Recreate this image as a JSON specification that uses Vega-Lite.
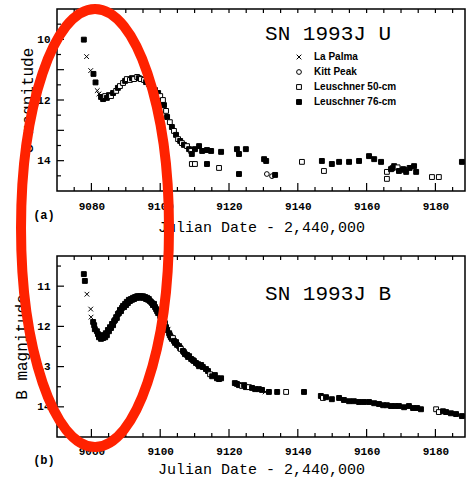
{
  "$schema": "https://vega.github.io/schema/vega-lite/v6.json",
  "background": "white",
  "padding": {"left": 13, "top": 3, "right": 0, "bottom": 4},
  "spacing": 65,
  "bounds": "flush",
  "config": {
    "view": {"stroke": "black", "strokeWidth": 1.5},
    "axis": {
      "labelFont": "Liberation Mono", "labelFontWeight": "bold", "labelFontSize": 11, "labelColor": "black",
      "titleFont": "Liberation Mono", "titleFontWeight": "normal", "titleColor": "black",
      "domain": false, "ticks": false,
      "grid": false, "labelOverlap": false, "labelFlush": false
    },
    "legend": {
      "orient": "none", "legendX": 237, "legendY": 43, "title": null, "padding": 0,
      "labelFont": "Liberation Sans", "labelFontWeight": "bold", "labelFontSize": 10, "labelColor": "black",
      "symbolStrokeColor": "black", "symbolStrokeWidth": 1, "rowPadding": 5, "labelOffset": 10
    }
  },
  "resolve": {
    "scale": {"shape": "independent", "fill": "independent", "size": "independent", "stroke": "independent"},
    "legend": {"shape": "independent", "fill": "independent", "size": "independent", "stroke": "independent"}
  },
  "datasets": {
    "U": [
      {"d": 9077.8, "m": 10.01, "s": "Leuschner 76-cm"},
      {"d": 9078.6, "m": 10.57, "s": "La Palma"},
      {"d": 9079.8, "m": 11.03, "s": "La Palma"},
      {"d": 9080.6, "m": 11.14, "s": "Leuschner 76-cm"},
      {"d": 9081.2, "m": 11.42, "s": "Leuschner 76-cm"},
      {"d": 9081.7, "m": 11.69, "s": "La Palma"},
      {"d": 9082.2, "m": 11.80, "s": "La Palma"},
      {"d": 9082.8, "m": 11.90, "s": "Leuschner 76-cm"},
      {"d": 9083.4, "m": 11.97, "s": "Leuschner 76-cm"},
      {"d": 9084.0, "m": 11.87, "s": "Leuschner 50-cm"},
      {"d": 9084.5, "m": 11.93, "s": "Leuschner 76-cm"},
      {"d": 9085.1, "m": 11.84, "s": "Leuschner 76-cm"},
      {"d": 9085.7, "m": 11.87, "s": "Leuschner 50-cm"},
      {"d": 9086.3, "m": 11.77, "s": "Leuschner 76-cm"},
      {"d": 9087.2, "m": 11.70, "s": "Leuschner 50-cm"},
      {"d": 9087.7, "m": 11.60, "s": "Leuschner 76-cm"},
      {"d": 9088.3, "m": 11.54, "s": "Leuschner 50-cm"},
      {"d": 9089.2, "m": 11.44, "s": "Leuschner 50-cm"},
      {"d": 9089.8, "m": 11.37, "s": "Leuschner 76-cm"},
      {"d": 9090.3, "m": 11.31, "s": "Leuschner 50-cm"},
      {"d": 9091.2, "m": 11.34, "s": "Leuschner 50-cm"},
      {"d": 9091.8, "m": 11.28, "s": "Leuschner 76-cm"},
      {"d": 9092.4, "m": 11.31, "s": "Leuschner 50-cm"},
      {"d": 9093.3, "m": 11.24, "s": "Leuschner 50-cm"},
      {"d": 9093.8, "m": 11.28, "s": "Leuschner 76-cm"},
      {"d": 9094.4, "m": 11.31, "s": "Leuschner 50-cm"},
      {"d": 9095.3, "m": 11.34, "s": "Leuschner 50-cm"},
      {"d": 9095.9, "m": 11.41, "s": "Leuschner 76-cm"},
      {"d": 9096.7, "m": 11.47, "s": "Leuschner 50-cm"},
      {"d": 9097.6, "m": 11.57, "s": "Leuschner 50-cm"},
      {"d": 9098.5, "m": 11.67, "s": "Leuschner 50-cm"},
      {"d": 9099.4, "m": 11.77, "s": "Leuschner 76-cm"},
      {"d": 9100.0, "m": 11.87, "s": "Leuschner 50-cm"},
      {"d": 9100.8, "m": 12.00, "s": "Leuschner 50-cm"},
      {"d": 9101.1, "m": 12.17, "s": "Leuschner 76-cm"},
      {"d": 9101.7, "m": 12.36, "s": "Leuschner 50-cm"},
      {"d": 9102.0, "m": 12.56, "s": "Leuschner 76-cm"},
      {"d": 9102.8, "m": 12.73, "s": "Leuschner 50-cm"},
      {"d": 9103.4, "m": 12.89, "s": "Leuschner 76-cm"},
      {"d": 9104.0, "m": 13.02, "s": "Leuschner 50-cm"},
      {"d": 9104.6, "m": 13.15, "s": "Leuschner 76-cm"},
      {"d": 9105.2, "m": 13.29, "s": "Leuschner 50-cm"},
      {"d": 9105.8, "m": 13.35, "s": "Leuschner 76-cm"},
      {"d": 9106.3, "m": 13.42, "s": "Leuschner 50-cm"},
      {"d": 9106.9, "m": 13.48, "s": "Leuschner 76-cm"},
      {"d": 9107.8, "m": 13.52, "s": "Leuschner 50-cm"},
      {"d": 9108.4, "m": 13.62, "s": "Leuschner 76-cm"},
      {"d": 9109.0, "m": 13.68, "s": "Leuschner 50-cm"},
      {"d": 9109.2, "m": 13.78, "s": "Leuschner 76-cm"},
      {"d": 9110.1, "m": 13.62, "s": "Leuschner 76-cm"},
      {"d": 9111.3, "m": 13.52, "s": "Leuschner 76-cm"},
      {"d": 9112.2, "m": 13.68, "s": "Leuschner 76-cm"},
      {"d": 9113.6, "m": 13.65, "s": "Leuschner 76-cm"},
      {"d": 9114.8, "m": 13.68, "s": "Leuschner 76-cm"},
      {"d": 9117.7, "m": 13.71, "s": "Leuschner 76-cm"},
      {"d": 9122.3, "m": 13.62, "s": "Leuschner 76-cm"},
      {"d": 9122.9, "m": 13.78, "s": "Leuschner 76-cm"},
      {"d": 9124.9, "m": 13.62, "s": "Leuschner 76-cm"},
      {"d": 9130.2, "m": 13.95, "s": "Leuschner 76-cm"},
      {"d": 9130.8, "m": 14.01, "s": "Leuschner 76-cm"},
      {"d": 9141.2, "m": 14.04, "s": "Leuschner 50-cm"},
      {"d": 9109.2, "m": 14.11, "s": "Leuschner 50-cm"},
      {"d": 9110.1, "m": 14.11, "s": "Leuschner 50-cm"},
      {"d": 9113.6, "m": 14.11, "s": "Leuschner 76-cm"},
      {"d": 9117.1, "m": 14.24, "s": "Leuschner 50-cm"},
      {"d": 9122.9, "m": 14.44, "s": "Leuschner 76-cm"},
      {"d": 9131.0, "m": 14.44, "s": "Kitt Peak"},
      {"d": 9132.5, "m": 14.51, "s": "Kitt Peak"},
      {"d": 9133.4, "m": 14.47, "s": "Leuschner 76-cm"},
      {"d": 9147.0, "m": 14.01, "s": "Leuschner 76-cm"},
      {"d": 9147.6, "m": 14.34, "s": "Leuschner 50-cm"},
      {"d": 9149.9, "m": 14.11, "s": "Leuschner 76-cm"},
      {"d": 9152.0, "m": 14.04, "s": "Leuschner 76-cm"},
      {"d": 9154.9, "m": 14.04, "s": "Leuschner 76-cm"},
      {"d": 9157.8, "m": 14.01, "s": "Leuschner 76-cm"},
      {"d": 9160.7, "m": 13.85, "s": "Leuschner 76-cm"},
      {"d": 9162.2, "m": 13.95, "s": "Leuschner 76-cm"},
      {"d": 9164.2, "m": 14.04, "s": "Leuschner 76-cm"},
      {"d": 9165.9, "m": 14.37, "s": "Leuschner 50-cm"},
      {"d": 9165.9, "m": 14.60, "s": "Leuschner 50-cm"},
      {"d": 9167.1, "m": 14.28, "s": "Leuschner 76-cm"},
      {"d": 9167.5, "m": 14.25, "s": "Leuschner 76-cm"},
      {"d": 9168.0, "m": 14.18, "s": "Leuschner 76-cm"},
      {"d": 9169.0, "m": 14.22, "s": "Leuschner 50-cm"},
      {"d": 9169.4, "m": 14.34, "s": "Leuschner 76-cm"},
      {"d": 9170.6, "m": 14.28, "s": "Leuschner 76-cm"},
      {"d": 9171.0, "m": 14.30, "s": "Leuschner 76-cm"},
      {"d": 9171.5, "m": 14.37, "s": "Leuschner 76-cm"},
      {"d": 9172.5, "m": 14.24, "s": "Leuschner 76-cm"},
      {"d": 9173.8, "m": 14.18, "s": "Leuschner 76-cm"},
      {"d": 9174.4, "m": 14.37, "s": "Leuschner 76-cm"},
      {"d": 9179.0, "m": 14.54, "s": "Leuschner 50-cm"},
      {"d": 9181.0, "m": 14.54, "s": "Leuschner 50-cm"},
      {"d": 9187.7, "m": 14.04, "s": "Leuschner 76-cm"}
    ],
    "B": [
      {"d": 9077.8, "m": 10.70, "s": "Leuschner 76-cm"},
      {"d": 9078.1, "m": 10.87, "s": "Leuschner 76-cm"},
      {"d": 9078.7, "m": 11.20, "s": "La Palma"},
      {"d": 9079.8, "m": 11.57, "s": "La Palma"},
      {"d": 9079.9, "m": 11.77, "s": "La Palma"},
      {"d": 9080.5, "m": 11.89, "s": "Leuschner 76-cm"},
      {"d": 9080.8, "m": 11.97, "s": "Leuschner 76-cm"},
      {"d": 9081.0, "m": 12.07, "s": "Leuschner 76-cm"},
      {"d": 9081.6, "m": 12.12, "s": "Leuschner 76-cm"},
      {"d": 9081.9, "m": 12.19, "s": "Leuschner 76-cm"},
      {"d": 9082.2, "m": 12.27, "s": "Leuschner 76-cm"},
      {"d": 9082.5, "m": 12.22, "s": "Leuschner 76-cm"},
      {"d": 9082.8, "m": 12.31, "s": "Leuschner 76-cm"},
      {"d": 9083.1, "m": 12.24, "s": "Leuschner 76-cm"},
      {"d": 9083.4, "m": 12.29, "s": "Leuschner 76-cm"},
      {"d": 9083.7, "m": 12.22, "s": "Leuschner 76-cm"},
      {"d": 9084.0, "m": 12.27, "s": "Leuschner 76-cm"},
      {"d": 9084.2, "m": 12.17, "s": "Leuschner 76-cm"},
      {"d": 9084.5, "m": 12.22, "s": "Leuschner 76-cm"},
      {"d": 9084.8, "m": 12.09, "s": "Leuschner 76-cm"},
      {"d": 9085.1, "m": 12.12, "s": "Leuschner 76-cm"},
      {"d": 9085.4, "m": 12.02, "s": "Leuschner 76-cm"},
      {"d": 9085.7, "m": 12.04, "s": "Leuschner 76-cm"},
      {"d": 9086.0, "m": 11.94, "s": "Leuschner 76-cm"},
      {"d": 9086.3, "m": 11.97, "s": "Leuschner 76-cm"},
      {"d": 9086.6, "m": 11.87, "s": "Leuschner 76-cm"},
      {"d": 9086.9, "m": 11.84, "s": "Leuschner 76-cm"},
      {"d": 9087.2, "m": 11.77, "s": "Leuschner 76-cm"},
      {"d": 9087.4, "m": 11.79, "s": "Leuschner 76-cm"},
      {"d": 9087.7, "m": 11.69, "s": "Leuschner 76-cm"},
      {"d": 9088.0, "m": 11.67, "s": "Leuschner 76-cm"},
      {"d": 9088.3, "m": 11.59, "s": "Leuschner 76-cm"},
      {"d": 9088.6, "m": 11.62, "s": "Leuschner 76-cm"},
      {"d": 9088.9, "m": 11.54, "s": "Leuschner 76-cm"},
      {"d": 9089.2, "m": 11.49, "s": "Leuschner 76-cm"},
      {"d": 9089.5, "m": 11.52, "s": "Leuschner 76-cm"},
      {"d": 9089.8, "m": 11.44, "s": "Leuschner 76-cm"},
      {"d": 9090.1, "m": 11.47, "s": "Leuschner 76-cm"},
      {"d": 9090.3, "m": 11.39, "s": "Leuschner 76-cm"},
      {"d": 9090.6, "m": 11.42, "s": "Leuschner 76-cm"},
      {"d": 9090.9, "m": 11.34, "s": "Leuschner 76-cm"},
      {"d": 9091.2, "m": 11.37, "s": "Leuschner 76-cm"},
      {"d": 9091.5, "m": 11.32, "s": "Leuschner 76-cm"},
      {"d": 9091.8, "m": 11.34, "s": "Leuschner 76-cm"},
      {"d": 9092.1, "m": 11.29, "s": "Leuschner 76-cm"},
      {"d": 9092.4, "m": 11.32, "s": "Leuschner 76-cm"},
      {"d": 9092.7, "m": 11.27, "s": "Leuschner 76-cm"},
      {"d": 9093.0, "m": 11.29, "s": "Leuschner 76-cm"},
      {"d": 9093.3, "m": 11.25, "s": "Leuschner 76-cm"},
      {"d": 9093.5, "m": 11.27, "s": "Leuschner 76-cm"},
      {"d": 9093.8, "m": 11.25, "s": "Leuschner 76-cm"},
      {"d": 9094.1, "m": 11.29, "s": "Leuschner 76-cm"},
      {"d": 9094.4, "m": 11.25, "s": "Leuschner 76-cm"},
      {"d": 9094.7, "m": 11.27, "s": "Leuschner 76-cm"},
      {"d": 9095.0, "m": 11.25, "s": "Leuschner 76-cm"},
      {"d": 9095.3, "m": 11.29, "s": "Leuschner 76-cm"},
      {"d": 9095.6, "m": 11.27, "s": "Leuschner 76-cm"},
      {"d": 9095.9, "m": 11.32, "s": "Leuschner 76-cm"},
      {"d": 9096.2, "m": 11.29, "s": "Leuschner 76-cm"},
      {"d": 9096.5, "m": 11.34, "s": "Leuschner 76-cm"},
      {"d": 9096.7, "m": 11.32, "s": "Leuschner 76-cm"},
      {"d": 9097.0, "m": 11.37, "s": "Leuschner 76-cm"},
      {"d": 9097.3, "m": 11.39, "s": "Leuschner 76-cm"},
      {"d": 9097.6, "m": 11.42, "s": "Leuschner 76-cm"},
      {"d": 9097.9, "m": 11.47, "s": "Leuschner 76-cm"},
      {"d": 9098.2, "m": 11.44, "s": "Leuschner 76-cm"},
      {"d": 9098.5, "m": 11.52, "s": "Leuschner 76-cm"},
      {"d": 9098.8, "m": 11.57, "s": "Leuschner 76-cm"},
      {"d": 9099.1, "m": 11.62, "s": "Leuschner 76-cm"},
      {"d": 9099.4, "m": 11.67, "s": "Leuschner 76-cm"},
      {"d": 9099.7, "m": 11.62, "s": "La Palma"},
      {"d": 9100.0, "m": 11.74, "s": "Leuschner 76-cm"},
      {"d": 9100.2, "m": 11.82, "s": "Leuschner 76-cm"},
      {"d": 9100.5, "m": 11.77, "s": "La Palma"},
      {"d": 9100.8, "m": 11.89, "s": "Leuschner 76-cm"},
      {"d": 9101.1, "m": 11.97, "s": "Leuschner 76-cm"},
      {"d": 9101.4, "m": 11.92, "s": "Leuschner 50-cm"},
      {"d": 9101.7, "m": 12.02, "s": "Leuschner 76-cm"},
      {"d": 9102.0, "m": 12.09, "s": "Leuschner 76-cm"},
      {"d": 9102.3, "m": 12.07, "s": "La Palma"},
      {"d": 9102.6, "m": 12.17, "s": "Leuschner 76-cm"},
      {"d": 9102.8, "m": 12.22, "s": "Leuschner 76-cm"},
      {"d": 9103.1, "m": 12.27, "s": "Leuschner 76-cm"},
      {"d": 9103.4, "m": 12.31, "s": "Leuschner 76-cm"},
      {"d": 9103.7, "m": 12.29, "s": "Leuschner 50-cm"},
      {"d": 9104.0, "m": 12.36, "s": "Leuschner 76-cm"},
      {"d": 9104.3, "m": 12.41, "s": "Leuschner 76-cm"},
      {"d": 9104.6, "m": 12.39, "s": "Leuschner 76-cm"},
      {"d": 9104.9, "m": 12.46, "s": "Leuschner 76-cm"},
      {"d": 9105.5, "m": 12.49, "s": "Leuschner 76-cm"},
      {"d": 9105.8, "m": 12.54, "s": "Leuschner 76-cm"},
      {"d": 9106.0, "m": 12.56, "s": "Leuschner 50-cm"},
      {"d": 9106.6, "m": 12.61, "s": "Leuschner 76-cm"},
      {"d": 9106.9, "m": 12.64, "s": "Leuschner 76-cm"},
      {"d": 9107.2, "m": 12.69, "s": "Leuschner 76-cm"},
      {"d": 9107.8, "m": 12.71, "s": "Leuschner 76-cm"},
      {"d": 9108.1, "m": 12.76, "s": "Leuschner 76-cm"},
      {"d": 9108.4, "m": 12.74, "s": "Leuschner 76-cm"},
      {"d": 9109.0, "m": 12.81, "s": "Leuschner 76-cm"},
      {"d": 9109.5, "m": 12.84, "s": "Leuschner 76-cm"},
      {"d": 9109.8, "m": 12.86, "s": "Leuschner 76-cm"},
      {"d": 9110.4, "m": 12.91, "s": "Leuschner 76-cm"},
      {"d": 9111.0, "m": 12.94, "s": "Leuschner 76-cm"},
      {"d": 9111.3, "m": 12.99, "s": "Leuschner 76-cm"},
      {"d": 9111.9, "m": 12.96, "s": "Leuschner 76-cm"},
      {"d": 9112.4, "m": 13.01, "s": "Leuschner 76-cm"},
      {"d": 9113.3, "m": 13.06, "s": "Leuschner 76-cm"},
      {"d": 9113.9, "m": 13.11, "s": "Leuschner 76-cm"},
      {"d": 9114.5, "m": 13.19, "s": "Leuschner 50-cm"},
      {"d": 9115.1, "m": 13.24, "s": "Leuschner 76-cm"},
      {"d": 9115.9, "m": 13.21, "s": "Leuschner 76-cm"},
      {"d": 9116.5, "m": 13.29, "s": "Leuschner 76-cm"},
      {"d": 9117.1, "m": 13.31, "s": "Leuschner 76-cm"},
      {"d": 9117.7, "m": 13.29, "s": "Leuschner 76-cm"},
      {"d": 9121.7, "m": 13.41, "s": "Leuschner 76-cm"},
      {"d": 9122.3, "m": 13.43, "s": "Leuschner 76-cm"},
      {"d": 9122.9, "m": 13.46, "s": "Leuschner 76-cm"},
      {"d": 9123.8, "m": 13.48, "s": "Leuschner 50-cm"},
      {"d": 9124.4, "m": 13.46, "s": "Leuschner 76-cm"},
      {"d": 9124.9, "m": 13.51, "s": "Leuschner 76-cm"},
      {"d": 9125.8, "m": 13.51, "s": "Leuschner 50-cm"},
      {"d": 9126.7, "m": 13.53, "s": "Leuschner 76-cm"},
      {"d": 9127.6, "m": 13.56, "s": "Leuschner 76-cm"},
      {"d": 9128.7, "m": 13.56, "s": "Leuschner 76-cm"},
      {"d": 9129.6, "m": 13.58, "s": "Leuschner 76-cm"},
      {"d": 9130.5, "m": 13.63, "s": "La Palma"},
      {"d": 9131.6, "m": 13.63, "s": "Leuschner 76-cm"},
      {"d": 9134.0, "m": 13.63, "s": "Leuschner 76-cm"},
      {"d": 9136.6, "m": 13.63, "s": "Leuschner 50-cm"},
      {"d": 9141.8, "m": 13.63, "s": "Leuschner 76-cm"},
      {"d": 9146.7, "m": 13.73, "s": "Leuschner 76-cm"},
      {"d": 9147.3, "m": 13.78, "s": "Leuschner 50-cm"},
      {"d": 9148.2, "m": 13.76, "s": "Leuschner 76-cm"},
      {"d": 9149.9, "m": 13.81, "s": "Leuschner 76-cm"},
      {"d": 9152.0, "m": 13.78, "s": "Leuschner 76-cm"},
      {"d": 9153.4, "m": 13.83, "s": "Leuschner 76-cm"},
      {"d": 9154.9, "m": 13.86, "s": "Leuschner 76-cm"},
      {"d": 9156.3, "m": 13.86, "s": "Leuschner 76-cm"},
      {"d": 9157.8, "m": 13.88, "s": "Leuschner 76-cm"},
      {"d": 9159.2, "m": 13.88, "s": "Leuschner 76-cm"},
      {"d": 9160.7, "m": 13.88, "s": "Leuschner 76-cm"},
      {"d": 9162.2, "m": 13.91, "s": "Leuschner 76-cm"},
      {"d": 9163.6, "m": 13.93, "s": "Leuschner 76-cm"},
      {"d": 9164.8, "m": 13.96, "s": "Leuschner 76-cm"},
      {"d": 9165.9, "m": 13.96, "s": "Leuschner 76-cm"},
      {"d": 9167.1, "m": 13.98, "s": "Leuschner 76-cm"},
      {"d": 9168.3, "m": 13.98, "s": "Leuschner 76-cm"},
      {"d": 9169.4, "m": 13.98, "s": "Leuschner 76-cm"},
      {"d": 9170.9, "m": 14.01, "s": "Leuschner 76-cm"},
      {"d": 9172.3, "m": 13.98, "s": "Leuschner 76-cm"},
      {"d": 9173.5, "m": 14.03, "s": "Leuschner 76-cm"},
      {"d": 9174.7, "m": 14.03, "s": "Leuschner 76-cm"},
      {"d": 9175.8, "m": 14.06, "s": "Leuschner 76-cm"},
      {"d": 9180.2, "m": 14.06, "s": "Leuschner 50-cm"},
      {"d": 9181.0, "m": 14.13, "s": "Leuschner 50-cm"},
      {"d": 9182.2, "m": 14.11, "s": "Leuschner 76-cm"},
      {"d": 9183.1, "m": 14.13, "s": "Leuschner 76-cm"},
      {"d": 9184.5, "m": 14.16, "s": "Leuschner 76-cm"},
      {"d": 9186.0, "m": 14.18, "s": "Leuschner 76-cm"},
      {"d": 9187.7, "m": 14.23, "s": "Leuschner 76-cm"}
    ]
  },
  "vconcat": [
    {
      "width": 408,
      "height": 182,
      "encoding": {
        "x": {"field": "d", "type": "quantitative",
          "scale": {"domain": [9070, 9188.6], "nice": false, "zero": false},
          "axis": {"orient": "bottom", "title": "Julian Date - 2,440,000", "titleFontSize": 15, "titlePadding": 8,
            "values": [9080, 9100, 9120, 9140, 9160, 9180], "format": "d", "labelPadding": 9}},
        "y": {"field": "m", "type": "quantitative",
          "scale": {"domain": [9, 15], "reverse": true, "nice": false, "zero": false},
          "axis": {"orient": "left", "title": "U magnitude", "titleFontSize": 16, "titlePadding": 1,
            "values": [10, 12, 14], "format": "d", "labelPadding": 7}}
      },
      "layer": [
        {
          "data": {"name": "U"},
          "mark": {"type": "point", "strokeWidth": 1, "opacity": 1},
          "encoding": {
            "shape": {"field": "s", "type": "nominal",
              "scale": {"domain": ["La Palma", "Kitt Peak", "Leuschner 50-cm", "Leuschner 76-cm"],
                "range": ["M-1,-1L1,1M-1,1L1,-1", "circle", "square", "square"]}},
            "stroke": {"field": "s", "type": "nominal",
              "scale": {"domain": ["La Palma", "Kitt Peak", "Leuschner 50-cm", "Leuschner 76-cm"],
                "range": ["black", "black", "black", "black"]}},
            "fill": {"field": "s", "type": "nominal",
              "scale": {"domain": ["La Palma", "Kitt Peak", "Leuschner 50-cm", "Leuschner 76-cm"],
                "range": ["transparent", "white", "white", "black"]}},
            "size": {"field": "s", "type": "nominal",
              "scale": {"domain": ["La Palma", "Kitt Peak", "Leuschner 50-cm", "Leuschner 76-cm"],
                "range": [22, 24, 22, 10]}}
          }
        },
        {"data": {"values": [
            {"d": 9075, "m": 9}, {"d": 9080, "m": 9}, {"d": 9085, "m": 9}, {"d": 9090, "m": 9}, {"d": 9095, "m": 9},
            {"d": 9100, "m": 9}, {"d": 9105, "m": 9}, {"d": 9110, "m": 9}, {"d": 9115, "m": 9}, {"d": 9120, "m": 9},
            {"d": 9125, "m": 9}, {"d": 9130, "m": 9}, {"d": 9135, "m": 9}, {"d": 9140, "m": 9}, {"d": 9145, "m": 9},
            {"d": 9150, "m": 9}, {"d": 9155, "m": 9}, {"d": 9160, "m": 9}, {"d": 9165, "m": 9}, {"d": 9170, "m": 9},
            {"d": 9175, "m": 9}, {"d": 9180, "m": 9}, {"d": 9185, "m": 9}]},
          "mark": {"type": "point", "shape": "M-0.6,0L0.6,0L0.6,4L-0.6,4Z", "size": 4, "filled": true, "fill": "black", "strokeOpacity": 0, "opacity": 1}},
        {"data": {"values": [
            {"d": 9075, "m": 15}, {"d": 9085, "m": 15}, {"d": 9090, "m": 15}, {"d": 9095, "m": 15}, {"d": 9105, "m": 15},
            {"d": 9110, "m": 15}, {"d": 9115, "m": 15}, {"d": 9125, "m": 15}, {"d": 9130, "m": 15}, {"d": 9135, "m": 15},
            {"d": 9145, "m": 15}, {"d": 9150, "m": 15}, {"d": 9155, "m": 15}, {"d": 9165, "m": 15}, {"d": 9170, "m": 15},
            {"d": 9175, "m": 15}, {"d": 9185, "m": 15}]},
          "mark": {"type": "point", "shape": "M-0.6,0L0.6,0L0.6,-4L-0.6,-4Z", "size": 4, "filled": true, "fill": "black", "strokeOpacity": 0, "opacity": 1}},
        {"data": {"values": [
            {"d": 9080, "m": 15}, {"d": 9100, "m": 15}, {"d": 9120, "m": 15}, {"d": 9140, "m": 15}, {"d": 9160, "m": 15}, {"d": 9180, "m": 15}]},
          "mark": {"type": "point", "shape": "M-0.6,0L0.6,0L0.6,-8L-0.6,-8Z", "size": 4, "filled": true, "fill": "black", "strokeOpacity": 0, "opacity": 1}},
        {"data": {"values": [{"d": 9070, "m": 9.5}, {"d": 9070, "m": 10.5}, {"d": 9070, "m": 11.5}, {"d": 9070, "m": 12.5}, {"d": 9070, "m": 13.5}, {"d": 9070, "m": 14.5}]},
          "mark": {"type": "point", "shape": "M0,-0.6L4,-0.6L4,0.6L0,0.6Z", "size": 4, "filled": true, "fill": "black", "strokeOpacity": 0, "opacity": 1}},
        {"data": {"values": [{"d": 9070, "m": 10}, {"d": 9070, "m": 11}, {"d": 9070, "m": 12}, {"d": 9070, "m": 13}, {"d": 9070, "m": 14}]},
          "mark": {"type": "point", "shape": "M0,-0.6L7,-0.6L7,0.6L0,0.6Z", "size": 4, "filled": true, "fill": "black", "strokeOpacity": 0, "opacity": 1}},
        {
          "data": {"values": [{"d": 9148.8, "m": 9.82, "t": "SN 1993J U"}]},
          "mark": {"type": "text", "font": "Liberation Mono", "fontSize": 21, "color": "black"},
          "encoding": {"text": {"field": "t"}}
        },
        {
          "data": {"values": [{"d": 9066.2, "m": 15.79, "t": "(a)"}]},
          "mark": {"type": "text", "font": "Liberation Mono", "fontSize": 12, "fontWeight": "bold", "color": "black"},
          "encoding": {"text": {"field": "t"}}
        }
      ]
    },
    {
      "width": 408,
      "height": 181,
      "encoding": {
        "x": {"field": "d", "type": "quantitative",
          "scale": {"domain": [9070, 9188.6], "nice": false, "zero": false},
          "axis": {"orient": "bottom", "title": "Julian Date - 2,440,000", "titleFontSize": 15, "titlePadding": 5,
            "values": [9080, 9100, 9120, 9140, 9160, 9180], "format": "d", "labelPadding": 8}},
        "y": {"field": "m", "type": "quantitative",
          "scale": {"domain": [10.25, 14.75], "reverse": true, "nice": false, "zero": false},
          "axis": {"orient": "left", "title": "B magnitude", "titleFontSize": 16, "titlePadding": 7,
            "values": [11, 12, 13, 14], "format": "d", "labelPadding": 7}}
      },
      "layer": [
        {
          "data": {"name": "B"},
          "mark": {"type": "point", "strokeWidth": 1, "opacity": 1},
          "encoding": {
            "shape": {"field": "s", "type": "nominal",
              "scale": {"domain": ["La Palma", "Kitt Peak", "Leuschner 50-cm", "Leuschner 76-cm"],
                "range": ["M-1,-1L1,1M-1,1L1,-1", "circle", "square", "square"]}, "legend": null},
            "stroke": {"field": "s", "type": "nominal",
              "scale": {"domain": ["La Palma", "Kitt Peak", "Leuschner 50-cm", "Leuschner 76-cm"],
                "range": ["black", "black", "black", "black"]}, "legend": null},
            "fill": {"field": "s", "type": "nominal",
              "scale": {"domain": ["La Palma", "Kitt Peak", "Leuschner 50-cm", "Leuschner 76-cm"],
                "range": ["transparent", "white", "white", "black"]}, "legend": null},
            "size": {"field": "s", "type": "nominal",
              "scale": {"domain": ["La Palma", "Kitt Peak", "Leuschner 50-cm", "Leuschner 76-cm"],
                "range": [22, 24, 22, 10]}, "legend": null}
          }
        },
        {"data": {"values": [
            {"d": 9075, "m": 10.25}, {"d": 9080, "m": 10.25}, {"d": 9085, "m": 10.25}, {"d": 9090, "m": 10.25}, {"d": 9095, "m": 10.25},
            {"d": 9100, "m": 10.25}, {"d": 9105, "m": 10.25}, {"d": 9110, "m": 10.25}, {"d": 9115, "m": 10.25}, {"d": 9120, "m": 10.25},
            {"d": 9125, "m": 10.25}, {"d": 9130, "m": 10.25}, {"d": 9135, "m": 10.25}, {"d": 9140, "m": 10.25}, {"d": 9145, "m": 10.25},
            {"d": 9150, "m": 10.25}, {"d": 9155, "m": 10.25}, {"d": 9160, "m": 10.25}, {"d": 9165, "m": 10.25}, {"d": 9170, "m": 10.25},
            {"d": 9175, "m": 10.25}, {"d": 9180, "m": 10.25}, {"d": 9185, "m": 10.25}]},
          "mark": {"type": "point", "shape": "M-0.6,0L0.6,0L0.6,4L-0.6,4Z", "size": 4, "filled": true, "fill": "black", "strokeOpacity": 0, "opacity": 1}},
        {"data": {"values": [
            {"d": 9075, "m": 14.75}, {"d": 9085, "m": 14.75}, {"d": 9090, "m": 14.75}, {"d": 9095, "m": 14.75}, {"d": 9105, "m": 14.75},
            {"d": 9110, "m": 14.75}, {"d": 9115, "m": 14.75}, {"d": 9125, "m": 14.75}, {"d": 9130, "m": 14.75}, {"d": 9135, "m": 14.75},
            {"d": 9145, "m": 14.75}, {"d": 9150, "m": 14.75}, {"d": 9155, "m": 14.75}, {"d": 9165, "m": 14.75}, {"d": 9170, "m": 14.75},
            {"d": 9175, "m": 14.75}, {"d": 9185, "m": 14.75}]},
          "mark": {"type": "point", "shape": "M-0.6,0L0.6,0L0.6,-4L-0.6,-4Z", "size": 4, "filled": true, "fill": "black", "strokeOpacity": 0, "opacity": 1}},
        {"data": {"values": [
            {"d": 9080, "m": 14.75}, {"d": 9100, "m": 14.75}, {"d": 9120, "m": 14.75}, {"d": 9140, "m": 14.75}, {"d": 9160, "m": 14.75}, {"d": 9180, "m": 14.75}]},
          "mark": {"type": "point", "shape": "M-0.6,0L0.6,0L0.6,-8L-0.6,-8Z", "size": 4, "filled": true, "fill": "black", "strokeOpacity": 0, "opacity": 1}},
        {"data": {"values": [{"d": 9070, "m": 10.5}, {"d": 9070, "m": 11.5}, {"d": 9070, "m": 12.5}, {"d": 9070, "m": 13.5}, {"d": 9070, "m": 14.5}]},
          "mark": {"type": "point", "shape": "M0,-0.6L4,-0.6L4,0.6L0,0.6Z", "size": 4, "filled": true, "fill": "black", "strokeOpacity": 0, "opacity": 1}},
        {"data": {"values": [{"d": 9070, "m": 11}, {"d": 9070, "m": 12}, {"d": 9070, "m": 13}, {"d": 9070, "m": 14}]},
          "mark": {"type": "point", "shape": "M0,-0.6L7,-0.6L7,0.6L0,0.6Z", "size": 4, "filled": true, "fill": "black", "strokeOpacity": 0, "opacity": 1}},
        {
          "data": {"values": [{"d": 9148.8, "m": 11.2, "t": "SN 1993J B"}]},
          "mark": {"type": "text", "font": "Liberation Mono", "fontSize": 21, "color": "black"},
          "encoding": {"text": {"field": "t"}}
        },
        {
          "data": {"values": [{"d": 9066.2, "m": 15.32, "t": "(b)"}]},
          "mark": {"type": "text", "font": "Liberation Mono", "fontSize": 12, "fontWeight": "bold", "color": "black"},
          "encoding": {"text": {"field": "t"}}
        },
        {
          "data": {"values": [{"d": 9081.05, "m": 9.553}]},
          "mark": {"type": "point", "shape": "M0,-219C41,-219,74,-121,74,0C74,121,41,219,0,219C-41,219,-74,121,-74,0C-74,-121,-41,-219,0,-219Z", "size": 4,
            "filled": false, "stroke": "#ff2200", "strokeWidth": 10, "strokeJoin": "round", "opacity": 1}
        }
      ]
    }
  ]
}
